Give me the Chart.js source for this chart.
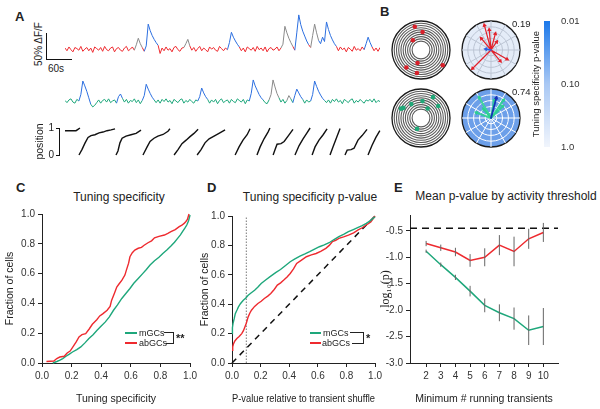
<!DOCTYPE html>
<html>
<head>
<meta charset="utf-8">
<script src="https://cdn.jsdelivr.net/npm/chart.js@4.4.0/dist/chart.umd.min.js"></script>
<style>
body { margin: 0; background: #fff; font-family: 'Liberation Sans', Arial, sans-serif; color: #222; }
#fig { position: relative; width: 600px; height: 409px; overflow: hidden; }
canvas { position: absolute; }
.t { position: absolute; white-space: nowrap; line-height: 1; }
.lbl { font-weight: bold; font-size: 13px; }
.ttl { font-size: 12px; transform: translateX(-50%); }
.sm { font-size: 9px; }
.ln { position: absolute; }
</style>
</head>
<body>
<div id="fig">
  <!-- panel letters and titles -->
  <div class="t lbl" style="left:15px;top:10px">A</div>
  <div class="t lbl" style="left:380px;top:5px">B</div>
  <div class="t lbl" style="left:16px;top:181px">C</div>
  <div class="t lbl" style="left:207px;top:181px">D</div>
  <div class="t lbl" style="left:394px;top:181px">E</div>
  <div class="t ttl" style="left:119px;top:191px">Tuning specificity</div>
  <div class="t ttl" style="left:310px;top:191px">Tuning specificity p-value</div>
  <div class="t ttl" style="left:506px;top:190px">Mean p-value by activity threshold</div>

  <!-- A: scale bar -->
  <div class="ln" style="left:46px;top:33px;width:1.3px;height:27px;background:#111"></div>
  <div class="ln" style="left:46px;top:59px;width:26px;height:1.3px;background:#111"></div>
  <div class="t" style="left:39px;top:44px;font-size:10px;transform:translate(-50%,-50%) rotate(-90deg)">50% ΔF/F</div>
  <div class="t" style="left:48px;top:64px;font-size:10px">60s</div>

  <canvas id="redTrace" width="315" height="50" style="left:65px;top:10px"></canvas>
  <canvas id="greenTrace" width="315" height="45" style="left:65px;top:70px"></canvas>
  <canvas id="posChart" width="352" height="45" style="left:30px;top:118px"></canvas>

  <!-- B -->
  <canvas id="mazeTop" width="60" height="60" style="left:391px;top:20px"></canvas>
  <canvas id="mazeBot" width="60" height="60" style="left:391px;top:88px"></canvas>
  <canvas id="polarTop" width="60" height="60" style="left:461px;top:20px"></canvas>
  <canvas id="polarBot" width="60" height="60" style="left:461px;top:88px"></canvas>
  <div class="t sm" style="left:512px;top:19px;font-size:9.5px">0.19</div>
  <div class="t sm" style="left:512px;top:87px;font-size:9.5px">0.74</div>
  <canvas id="colorBar" width="69" height="150" style="left:531px;top:10px"></canvas>

  <!-- C, D, E -->
  <canvas id="chartC" width="200" height="209" style="left:0px;top:200px"></canvas>
  <canvas id="chartD" width="190" height="209" style="left:195px;top:200px"></canvas>
  <canvas id="chartE" width="225" height="209" style="left:375px;top:200px"></canvas>

  <!-- legend C -->
  <div class="ln" style="left:125px;top:332px;width:12px;height:2px;background:#1ea77b"></div>
  <div class="t sm" style="left:139px;top:328.5px">mGCs</div>
  <div class="ln" style="left:125px;top:342px;width:12px;height:2px;background:#ee2a2f"></div>
  <div class="t sm" style="left:139px;top:338.5px">abGCs</div>
  <div class="ln" style="left:164px;top:332px;width:9px;height:1px;background:#222"></div>
  <div class="ln" style="left:173px;top:332px;width:1px;height:12px;background:#222"></div>
  <div class="ln" style="left:166px;top:343px;width:8px;height:1px;background:#222"></div>
  <div class="t" style="left:176px;top:333px;font-size:11px;font-weight:bold">**</div>

  <!-- legend D -->
  <div class="ln" style="left:310px;top:332px;width:11px;height:2px;background:#1ea77b"></div>
  <div class="t sm" style="left:323px;top:328.5px">mGCs</div>
  <div class="ln" style="left:310px;top:342px;width:11px;height:2px;background:#ee2a2f"></div>
  <div class="t sm" style="left:322px;top:338.5px">abGCs</div>
  <div class="ln" style="left:350px;top:332px;width:13px;height:1px;background:#222"></div>
  <div class="ln" style="left:363px;top:332px;width:1px;height:12px;background:#222"></div>
  <div class="ln" style="left:352px;top:343px;width:11px;height:1px;background:#222"></div>
  <div class="t" style="left:366px;top:333px;font-size:11px;font-weight:bold">*</div>
</div>

<script>
// ---- A: fluorescence traces (% dF/F, one value per sample) ----
const redTrace = [
  2, -3, 4, -1, -5, 3, 1, -2, 5, -4, 0, 3, -3, 2, -6, 4, 1, -2, 3, -4, 5, -1, -3, 2, 4, -5, 1, 3, -2, -4, 2, 5, -3, 0, 4, -2,
  8, 20, 10, 3,
  -4,
  6, 46, 34, 25, 18, 12, 7,
  -8, 2, -3, 4, -2, 1, -5, 3, 5, -1, -4, 2, 3,
  10, 18, 6,
  -2, 3, -4, 1, 5, -3, 2, -1, -5, 4, 0, 3, -2, -4, 5, 1, -3, 2, -1,
  12, 31, 22, 15, 9, 4,
  -3, 2, -5, 4, 1, -2, 3, -4, 5, -1, 2, -3, 4, -5, 1, 3, -2, 0, 4, -3, 2,
  9, 42, 30, 20, 12, 5,
  -2,
  30, 63, 45, 33, 24, 15, 8,
  3,
  25, 46, 30, 16,
  10, 22, 14, 50, 36, 25, 17, 10, 5,
  -3, 4, -1, 2, -5, 3, 0, -4, 5, -2, 1, -3, 4, -1,
  10, 22, 12, 4,
  -3, 2, -4, 3
];
const redBlue = [[40, 47], [82, 88], [116, 123], [128, 137], [151, 155]];
const redGray = [[35, 39], [60, 63], [109, 115], [124, 128]];

const greenTrace = [
  1, -3, 2, 4, -2, -4, 3, 0,
  12, 37, 28, 18, 6, -6, -11,
  -8, -3, 2, -4, 1, 3, -2, 4, -3, 0, 2, -4,
  8, 13, 5,
  -2, 3, -4, 1, -1, 4, -3, 2, -5, 1,
  10, 31, 22, 14, 7, 2,
  -3, 2, -4, 3, -1, 4, -2, 1, -5, 3, 0, -3, 2, 4, -4, 1, -2, 3, -1, -4, 2, 0,
  8, 24, 15, 8, 3,
  -4, 2, -2, 3, -5, 1, 4, -3, 0, 2, -4, 3, -1, -3, 4, 1, -2, 3, -5, 2, 0,
  14, 39, 28, 20, 12, 6, 2,
  -3, -5, 2,
  12, 39, 26, 14, 6,
  -2, 3, -4, 1,
  10, 4,
  -3,
  10, 22, 15, 8, 3,
  -4, 2, -2, 0,
  12, 37, 27, 18, 11, 5, 1,
  -3, 2, -4, 3, -1, 4, -2, 1, -5, 3, 0, -3, 2, 4, -4, 1, -2, 3, -1, -4, 2, 0, 3, -2, 4, -3, 1, -1
];
const greenBlue = [[7, 13], [26, 29], [39, 45], [67, 72], [93, 100], [115, 120], [124, 131]];
const greenGray = [[103, 108], [112, 114]];

// ---- A: position on track for each lap (time in samples, position 0..1) ----
const lapTimes = [
  [0, 3, 5.6, 6.6, 7.6],
  [7.1, 8.6, 10.2, 11.7, 13.2, 15.2, 17.3, 19.3, 21.3, 23.4, 25.4],
  [25.9, 26.9, 27.9, 29, 31, 33.5, 36.1, 38.6],
  [39.6, 41.7, 43.2, 45.2, 47.2, 49.8, 52.3, 53.3],
  [55.4, 57.4, 59.4, 61.5, 63.5, 65.5, 67.6],
  [67.1, 69.1, 71.1, 73.2, 75.7, 78.2, 81.3],
  [86.4, 88.4, 90.4, 92.5, 94],
  [97.5, 99.1, 101.1, 103.1, 104.1],
  [105.7, 106.7, 107.7, 109.7, 111.3, 113.3, 115.8],
  [116.8, 118.9, 120.9, 122.9, 124.5],
  [125.5, 127, 129, 131.1, 133.1],
  [134.6, 136.1, 137.7, 139.7],
  [142.2, 143.3, 145.3, 146.8, 148.8, 150.9, 153.4],
  [153.9, 155.9, 157.9, 159.9]
];
const lapPos = [
  [0.9, 0.9, 0.9, 0.95, 1],
  [0, 0.2, 0.45, 0.65, 0.72, 0.75, 0.82, 0.85, 0.9, 0.93, 0.97],
  [0, 0.15, 0.45, 0.62, 0.7, 0.75, 0.8, 0.92],
  [0, 0.3, 0.5, 0.62, 0.7, 0.76, 0.88, 0.97],
  [0, 0.2, 0.42, 0.55, 0.68, 0.8, 0.95],
  [0, 0.2, 0.45, 0.6, 0.7, 0.8, 0.93],
  [0, 0.3, 0.55, 0.75, 0.97],
  [0, 0.3, 0.6, 0.85, 1],
  [0, 0.2, 0.4, 0.42, 0.5, 0.7, 0.95],
  [0, 0.35, 0.6, 0.82, 1],
  [0, 0.3, 0.55, 0.75, 0.97],
  [0, 0.3, 0.6, 0.98],
  [0, 0.18, 0.2, 0.25, 0.55, 0.72, 0.95],
  [0, 0.35, 0.65, 0.9]
];
const posTicks = [0, 1];

// ---- B: event locations on the track and tuning vectors (angle deg clockwise from top) ----
const angleBins = Array.from({length: 72}, (_, i) => i * 5);
const mazeMax = 13, mazeHole = 4;
const polarMax = 5;
const redDotAngles = [345, 5, 320, 195, 220, 190, 125];
const redDotRadii = [10.8, 8.1, 5.7, 6.0, 10.2, 10.5, 11.9];
const greenDotAngles = [295, 325, 5, 35, 30, 55, 200, 300];
const greenDotRadii = [9.9, 7.6, 7.6, 5.2, 10.8, 9.4, 5.2, 9.1];
const redArrowAngles = [345, 355, 15, 320, 35, 120, 140, 225];
const redArrowLens = [4.4, 3.5, 2.9, 2.6, 1.7, 3.2, 2.5, 4.5];
const redMeanAngle = [280], redMeanLen = [0.9];
const greenArrowAnglesA = [10, 35, 290, 330];
const greenArrowLensA = [3.1, 3.8, 2.7, 4.1];
const greenArrowAnglesB = [45, 320];
const greenArrowLensB = [2.9, 2.0];
const greenMeanAngle = [15], greenMeanLen = [3.6];

// colour bar
const cbRange = [0.01, 1];
const cbTicks = [0.01, 0.1, 1];
const cbLabels = ['0.01', '0.10', '1.0'];

// ---- C: cumulative tuning specificity ----
const cRedX = [0.03, 0.08, 0.10, 0.12, 0.15, 0.17, 0.19, 0.21, 0.23, 0.25, 0.27, 0.295, 0.32, 0.34, 0.37, 0.39, 0.41, 0.44, 0.46, 0.47,
  0.49, 0.505, 0.52, 0.54, 0.56, 0.57, 0.585, 0.594, 0.61, 0.627, 0.65, 0.672, 0.69, 0.716, 0.74, 0.76, 0.79, 0.827, 0.85, 0.871,
  0.9, 0.927, 0.945, 0.96, 0.972, 0.982, 0.993];
const cRedY = [0.01, 0.013, 0.03, 0.04, 0.045, 0.067, 0.08, 0.11, 0.14, 0.175, 0.19, 0.197, 0.23, 0.26, 0.29, 0.316, 0.33, 0.354, 0.38, 0.42,
  0.47, 0.51, 0.53, 0.556, 0.59, 0.623, 0.67, 0.713, 0.74, 0.758, 0.77, 0.776, 0.79, 0.807, 0.82, 0.84, 0.85, 0.859, 0.87, 0.881,
  0.895, 0.915, 0.925, 0.937, 0.95, 0.964, 1.0];
const cGreenX = [0.073, 0.1, 0.118, 0.14, 0.162, 0.185, 0.206, 0.235, 0.262, 0.29, 0.317, 0.345, 0.372, 0.4, 0.428, 0.455, 0.483, 0.51, 0.539, 0.565,
  0.594, 0.62, 0.65, 0.68, 0.705, 0.73, 0.76, 0.79, 0.816, 0.845, 0.871, 0.895, 0.916, 0.935, 0.949, 0.965, 0.978, 0.99, 1.0];
const cGreenY = [0, 0.01, 0.018, 0.03, 0.045, 0.06, 0.074, 0.09, 0.108, 0.135, 0.164, 0.19, 0.22, 0.248, 0.276, 0.31, 0.354, 0.39, 0.433, 0.465,
  0.5, 0.535, 0.567, 0.6, 0.628, 0.658, 0.686, 0.71, 0.735, 0.76, 0.785, 0.81, 0.836, 0.86, 0.881, 0.905, 0.926, 0.955, 0.993];

// ---- D: cumulative p-values ----
const dGreenX = [0, 0.003, 0.007, 0.015, 0.023, 0.035, 0.045, 0.06, 0.079, 0.095, 0.113, 0.135, 0.158, 0.18, 0.204, 0.235, 0.271, 0.305, 0.339, 0.37,
  0.407, 0.44, 0.475, 0.51, 0.543, 0.577, 0.611, 0.645, 0.679, 0.713, 0.747, 0.78, 0.814, 0.848, 0.882, 0.91, 0.939, 0.97, 1.0];
const dGreenY = [0.2, 0.24, 0.268, 0.3, 0.336, 0.36, 0.382, 0.405, 0.427, 0.44, 0.461, 0.478, 0.495, 0.515, 0.541, 0.565, 0.591, 0.615, 0.636, 0.66,
  0.689, 0.708, 0.727, 0.742, 0.757, 0.775, 0.791, 0.803, 0.818, 0.84, 0.859, 0.875, 0.893, 0.908, 0.923, 0.935, 0.95, 0.97, 0.995];
const dRedX = [0, 0.005, 0.011, 0.02, 0.034, 0.05, 0.068, 0.08, 0.09, 0.1, 0.113, 0.125, 0.136, 0.158, 0.181, 0.204, 0.226, 0.25, 0.271, 0.295,
  0.317, 0.34, 0.362, 0.385, 0.407, 0.43, 0.452, 0.486, 0.52, 0.555, 0.588, 0.62, 0.656, 0.68, 0.701, 0.725, 0.747, 0.78, 0.814, 0.85,
  0.882, 0.91, 0.939, 0.97, 1.0];
const dRedY = [0.086, 0.11, 0.132, 0.15, 0.166, 0.18, 0.2, 0.22, 0.245, 0.27, 0.314, 0.34, 0.359, 0.385, 0.405, 0.42, 0.439, 0.455, 0.473, 0.5,
  0.53, 0.545, 0.564, 0.585, 0.609, 0.64, 0.677, 0.7, 0.723, 0.735, 0.745, 0.76, 0.78, 0.8, 0.825, 0.835, 0.848, 0.858, 0.87, 0.885,
  0.905, 0.92, 0.939, 0.96, 1.0];
const dCutoff = 0.1;

// ---- E: mean log10 p by threshold ----
const thresholds = [2, 3, 4, 5, 6, 7, 8, 9, 10];
const eRed = [-0.74, -0.82, -0.9, -1.06, -1.0, -0.77, -0.89, -0.65, -0.53];
const eRedErr = [0.05, 0.06, 0.08, 0.12, 0.17, 0.19, 0.28, 0.19, 0.18];
const eGreen = [-0.885, -1.14, -1.38, -1.64, -1.91, -2.05, -2.16, -2.38, -2.31];
const eGreenErr = [0.03, 0.04, 0.05, 0.1, 0.13, 0.16, 0.21, 0.28, 0.35];
const eChance = -0.45;

const RED = '#ee2a2f', GREEN = '#1ea77b', BLUE = '#2c6fe0', GRAY = '#8a8a8a';

Chart.defaults.font.family = "'Liberation Sans', Arial, sans-serif";
Chart.defaults.color = '#333';
Chart.defaults.animation = false;
Chart.defaults.plugins.legend.display = false;
Chart.defaults.plugins.tooltip.enabled = false;

function inRanges(i, ranges) {
  return ranges.some(r => i >= r[0] && i < r[1]);
}

function traceChart(id, values, color, blue, gray, yMin, yMax) {
  new Chart(document.getElementById(id), {
    type: 'scatter',
    data: {
      datasets: [{
        data: values.map((v, i) => ({x: i, y: v})),
        showLine: true, pointRadius: 0, borderWidth: 1, borderColor: color,
        segment: {
          borderColor: ctx => inRanges(ctx.p0DataIndex, blue) ? BLUE : (inRanges(ctx.p0DataIndex, gray) ? GRAY : color)
        }
      }]
    },
    options: {
      responsive: false, layout: {padding: 0},
      scales: {
        x: {display: false, min: 0, max: values.length - 1},
        y: {display: false, min: yMin, max: yMax}
      }
    }
  });
}

traceChart('redTrace', redTrace, RED, redBlue, redGray, -20, 72);
traceChart('greenTrace', greenTrace, GREEN, greenBlue, greenGray, -25.9, 57.4);

// position laps
new Chart(document.getElementById('posChart'), {
  type: 'scatter',
  data: {
    datasets: lapTimes.map((ts, k) => ({
      data: ts.map((t, i) => ({x: t, y: lapPos[k][i]})),
      showLine: true, pointRadius: 0, borderColor: '#111', borderWidth: 1.4, clip: 4
    }))
  },
  options: {
    responsive: false,
    layout: {padding: {top: 10, bottom: 8, left: 0, right: 0}},
    scales: {
      x: {display: false, min: -3.05, max: 161},
      y: {
        min: 0, max: 1,
        afterBuildTicks: s => { s.ticks = posTicks.map(v => ({value: v})); },
        afterFit: s => { s.width = 29; },
        ticks: {font: {size: 10}, color: '#222', padding: 2},
        grid: {drawOnChartArea: false, color: '#111', tickLength: 3},
        border: {color: '#111'},
        title: {display: true, text: 'position', font: {size: 10.5}, color: '#222', padding: 4}
      }
    }
  }
});

// ---- B ----
function sparse(angles, values, fillValue) {
  return angleBins.map(a => {
    const k = angles.indexOf(a);
    return k >= 0 ? values[k] : fillValue;
  });
}

function dotSets(angles, radii, color) {
  return angles.map((a, k) => ({
    data: sparse([a], [radii[k]], null),
    showLine: false, fill: false, pointRadius: 2.3, borderWidth: 0,
    backgroundColor: color, pointBorderColor: color
  }));
}

function arrowSet(angles, lens, color, width) {
  return {
    data: sparse(angles, lens, 0),
    fill: false, borderColor: color, borderWidth: width, borderJoinStyle: 'round',
    pointStyle: 'triangle', pointBackgroundColor: color, pointBorderWidth: 0,
    pointRadius: ctx => ctx.raw > 0 ? 2.6 : 0,
    pointRotation: ctx => angleBins[ctx.dataIndex]
  };
}

// rings are drawn at every whole step from `hole` to `rMax`
function ringChart(id, rMax, hole, ringColor, ringWidth, bg, spokeColor, datasets) {
  new Chart(document.getElementById(id), {
    type: 'radar',
    data: {labels: angleBins.map(() => ''), datasets},
    options: {
      responsive: false, layout: {padding: 1},
      scales: {
        r: {
          min: 0, max: rMax, backgroundColor: bg,
          ticks: {display: false, stepSize: 1, maxTicksLimit: 100},
          pointLabels: {display: false},
          grid: {
            circular: true,
            color: ctx => {
              const v = ctx.tick ? ctx.tick.value : 0;
              if (v === rMax) return '#1a1a1a';
              return v >= hole ? ringColor : 'rgba(0,0,0,0)';
            },
            lineWidth: ctx => (ctx.tick && ctx.tick.value === rMax) ? 1.3 : ringWidth
          },
          angleLines: {
            display: !!spokeColor,
            color: ctx => ctx.index % 6 === 0 ? spokeColor : 'rgba(0,0,0,0)',
            lineWidth: ctx => ctx.index % 6 === 0 ? 1 : 0
          }
        }
      }
    }
  });
}

ringChart('mazeTop', mazeMax, mazeHole, '#5c5c5c', 1.1, null, null, dotSets(redDotAngles, redDotRadii, '#d8202a'));
ringChart('mazeBot', mazeMax, mazeHole, '#5c5c5c', 1.1, null, null, dotSets(greenDotAngles, greenDotRadii, '#20a878'));
ringChart('polarTop', polarMax, 1, '#bcc5d4', 1, '#e4ecf8', '#bcc5d4', [
  arrowSet(redMeanAngle, redMeanLen, '#2c5fe0', 1.6),
  arrowSet(redArrowAngles, redArrowLens, '#e3202a', 1.2)
]);
ringChart('polarBot', polarMax, 1, '#ffffff', 1, '#6c9fe9', '#ffffff', [
  arrowSet(greenMeanAngle, greenMeanLen, '#1433b8', 1.8),
  arrowSet(greenArrowAnglesA, greenArrowLensA, 'rgba(40,210,140,0.85)', 2),
  arrowSet(greenArrowAnglesB, greenArrowLensB, 'rgba(40,210,140,0.85)', 2)
]);

// colour bar
new Chart(document.getElementById('colorBar'), {
  type: 'bar',
  data: {
    labels: [''],
    datasets: [{
      data: [cbRange],
      barPercentage: 1, categoryPercentage: 1, borderWidth: 0,
      backgroundColor: ctx => {
        const area = ctx.chart.chartArea;
        if (!area) return '#8ab4f0';
        const g = ctx.chart.ctx.createLinearGradient(0, area.top, 0, area.bottom);
        g.addColorStop(0, '#1b78ea');
        g.addColorStop(0.5, '#a9c8f4');
        g.addColorStop(1, '#f1f5fc');
        return g;
      }
    }]
  },
  options: {
    responsive: false,
    layout: {padding: {top: 11, bottom: 13, left: 0, right: 0}},
    scales: {
      x: {display: false},
      y: {
        type: 'logarithmic', reverse: true, min: cbRange[0], max: cbRange[1], position: 'right',
        afterBuildTicks: s => { s.ticks = cbTicks.map(v => ({value: v})); },
        afterFit: s => { s.width = 50; },
        ticks: {font: {size: 9.5}, color: '#333', padding: 3, callback: v => cbLabels[cbTicks.indexOf(v)]},
        grid: {display: false}, border: {display: false}
      },
      yTitle: {
        type: 'linear', position: 'left', display: true,
        afterFit: s => { s.width = 13; },
        ticks: {display: false}, grid: {display: false}, border: {display: false},
        title: {display: true, text: 'Tuning specificity p-value', font: {size: 9.5}, color: '#222', padding: 0}
      }
    }
  }
});

// ---- C, D, E ----
function axisOpts(min, max, step, decimals, title, size, titleFont) {
  return {
    type: 'linear', min, max,
    afterBuildTicks: s => {
      s.ticks = s.ticks.filter(t => Math.abs(t.value / step - Math.round(t.value / step)) < 1e-6);
    },
    afterFit: s => { if (s.isHorizontal()) s.height = size; else s.width = size; },
    ticks: {
      stepSize: step, autoSkip: false, font: {size: 10}, color: '#333', padding: 3,
      callback: v => (Math.abs(v) < 1e-9 ? 0 : v).toFixed(decimals)
    },
    grid: {drawOnChartArea: false, color: '#222', tickLength: 4},
    border: {color: '#222', width: 1},
    title: {display: true, text: title, font: titleFont || {size: 10.5}, color: '#222', padding: 4}
  };
}

function xy(xs, ys) {
  return xs.map((x, i) => ({x, y: ys[i]}));
}

function line(data, color, width, dash) {
  return {data, showLine: true, pointRadius: 0, borderColor: color, borderWidth: width, borderDash: dash || [], clip: false};
}

new Chart(document.getElementById('chartC'), {
  type: 'scatter',
  data: {
    datasets: [
      line(xy(cRedX, cRedY), RED, 1.4),
      line(xy(cGreenX, cGreenY), GREEN, 1.4)
    ]
  },
  options: {
    responsive: false,
    layout: {padding: {top: 14, right: 7, left: 0, bottom: 0}},
    scales: {
      x: axisOpts(0, 1, 0.2, 1, 'Tuning specificity', 46),
      y: axisOpts(0, 1, 0.2, 1, 'Fraction of cells', 42)
    }
  }
});

new Chart(document.getElementById('chartD'), {
  type: 'scatter',
  data: {
    datasets: [
      line(xy(dGreenX, dGreenY), GREEN, 1.4),
      line(xy(dRedX, dRedY), RED, 1.4),
      line([{x: 0, y: 0}, {x: 1, y: 1}], '#111', 1.5, [6, 5]),
      line([{x: dCutoff, y: 0}, {x: dCutoff, y: 1}], '#777', 1, [1.5, 1.5])
    ]
  },
  options: {
    responsive: false,
    layout: {padding: {top: 16, right: 6, left: 0, bottom: 0}},
    scales: {
      x: axisOpts(0, 1, 0.2, 1, 'P-value relative to transient shuffle', 46),
      y: axisOpts(0, 1, 0.2, 1, 'Fraction of cells', 37)
    }
  }
});

function errorBars(means, errs) {
  const pts = [];
  thresholds.forEach((t, i) => {
    pts.push({x: t, y: means[i] - errs[i]}, {x: t, y: means[i] + errs[i]}, {x: t, y: null});
  });
  return pts;
}

const eX = axisOpts(0.9, 11, 1, 0, 'Minimum # running transients', 46);
eX.afterBuildTicks = s => { s.ticks = thresholds.map(v => ({value: v})); };

new Chart(document.getElementById('chartE'), {
  type: 'scatter',
  data: {
    datasets: [
      Object.assign(line(errorBars(eRed, eRedErr), '#666', 1), {spanGaps: false, order: 0}),
      Object.assign(line(errorBars(eGreen, eGreenErr), '#666', 1), {spanGaps: false, order: 0}),
      Object.assign(line(xy(thresholds, eRed), RED, 1.5), {order: 1}),
      Object.assign(line(xy(thresholds, eGreen), GREEN, 1.5), {order: 1}),
      Object.assign(line([{x: 0.9, y: eChance}, {x: 11, y: eChance}], '#111', 1.5, [7, 5]), {order: 2})
    ]
  },
  options: {
    responsive: false,
    layout: {padding: {top: 15, right: 42, left: 0, bottom: 0}},
    scales: {
      x: eX,
      y: axisOpts(-3, -0.2, 0.5, 1, 'log\u2081\u2080(p)', 35, {family: "'Liberation Serif', serif", size: 12})
    }
  }
});
</script>
</body>
</html>
